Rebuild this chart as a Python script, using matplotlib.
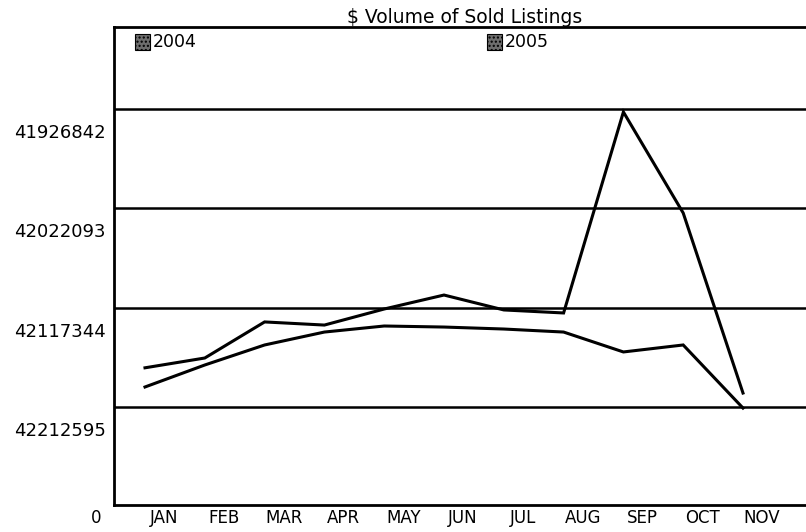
import matplotlib
matplotlib.use("Agg")
import matplotlib.pyplot as plt
from matplotlib.patches import Rectangle
import numpy as np

# Data (axis runs upside down in $)
months = ["JAN", "FEB", "MAR", "APR", "MAY", "JUN", "JUL", "AUG", "SEP", "OCT", "NOV"]
vol_2004 = [42193400, 42172300, 42153100, 42140700, 42134900, 42135900,
            42137800, 42140700, 42159800, 42153100, 42213600]
vol_2005 = [42175000, 42165600, 42131000, 42134000, 42118600, 42105200,
            42119500, 42122400, 41929600, 42026500, 42199200]
grid_vals = [41926842, 42022093, 42117344, 42212595]
series_names = ["2004", "2005"]

W, H = 806, 532
fig = plt.figure(figsize=(W / 100, H / 100), dpi=100)
fig.patch.set_facecolor("white")

# axes box in pixels: left 114, right past the edge, top 27, bottom 505
left, right, top, bottom = 114, 810, 27, 505
ax = fig.add_axes([left / W, 1 - bottom / H, (right - left) / W, (bottom - top) / H])

x = np.arange(len(months))
ax.plot(x, vol_2004, color="black", lw=2.2, solid_joinstyle="miter")
ax.plot(x, vol_2005, color="black", lw=2.2, solid_joinstyle="miter")

for g in grid_vals:
    ax.axhline(g, color="black", lw=1.8, zorder=0)

# pixel scale: 59.8 px per month, ~959 $ per px
ax.set_xlim((left - 145) / 59.8, (right - 145) / 59.8)
ax.set_ylim(42212595 + 98 * 959.2, 42212595 - 380 * 959.2)

# labels sit a little below/right of their gridlines/points, as in the scan
ax.set_yticks([g + 22 * 959.2 for g in grid_vals])
ax.set_yticklabels([str(g) for g in grid_vals], fontsize=13)
ax.set_xticks(x + 0.32)
ax.set_xticklabels(months, fontsize=12)
ax.tick_params(length=0, pad=6)
ax.tick_params(axis="x", pad=3)

for s in ["left", "bottom", "top"]:
    ax.spines[s].set_linewidth(2)
ax.spines["right"].set_visible(False)

fig.text(101 / W, 1 - 518 / H, "0", ha="right", va="center", fontsize=12)

# title sits right on the top frame line (acts as underline)
fig.text(465 / W, 1 - 23 / H, "$ Volume of Sold Listings", ha="center", va="baseline", fontsize=13.5)

# legend squares + labels
for name, px in zip(series_names, [135, 487]):
    fig.add_artist(Rectangle((px / W, 1 - 50 / H), 15 / W, 16 / H, transform=fig.transFigure,
                             facecolor="#6e6e6e", edgecolor="black", hatch="....", lw=0.8))
    fig.text((px + 18) / W, 1 - 42 / H, name, ha="left", va="center", fontsize=12.5)

fig.savefig("out.png", dpi=100)
